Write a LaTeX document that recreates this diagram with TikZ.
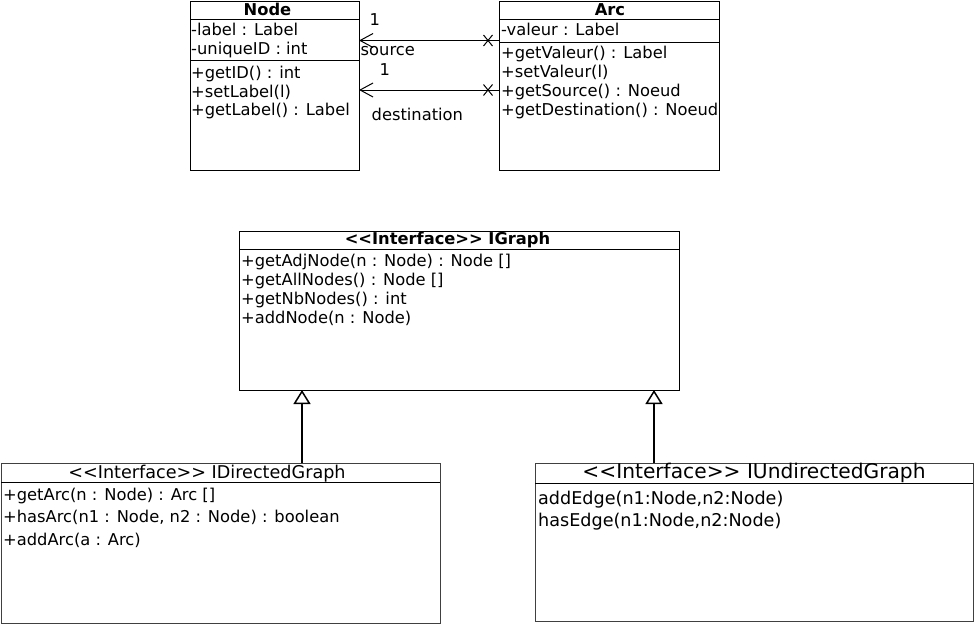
\documentclass[tikz,border=0pt]{standalone}
\usepackage{fontspec}
\setmainfont{DejaVu Sans}
\usetikzlibrary{arrows.meta,calc}
\newcommand\fbase{\fontsize{16.3}{19}\selectfont}
\newcommand\fmid{\fontsize{17.6}{20}\selectfont}
\newcommand\fbig{\fontsize{20.2}{23}\selectfont}
\newcommand\stereo{{<}{<}Interface{>}{>}}
\tikzset{
  box/.style={draw=black, line width=1pt, inner sep=0pt, outer sep=0pt, anchor=north west},
  lbox/.style={draw=black!75, line width=1pt, inner sep=0pt, outer sep=0pt, anchor=north west},
  sep/.style={draw=black, line width=1pt},
  ln/.style={anchor=base west, inner sep=0pt, font=\fbase},
  ttl/.style={anchor=base, inner sep=0pt, font=\fbase\bfseries},
  lbl/.style={anchor=base west, inner sep=0pt, font=\fbase},
  assoc/.style={line width=1pt, -{Straight Barb[length=13pt,width=14pt,line width=1pt]}},
  gen/.style={line width=2pt, -{Triangle[open,length=14pt,width=17pt,line width=1.5pt]}},
  crossmark/.style={line width=1pt}
}
\begin{document}
\begin{tikzpicture}[x=1pt,y=-1pt]
\useasboundingbox (0,0) rectangle (975,624);
\fill[white] (0,0) rectangle (975,624);

% ---------- Node ----------
\node[box, minimum width=169pt, minimum height=169pt] (node) at (190,1) {};
\draw[sep] (190,19) -- (359,19);
\draw[sep] (190,60) -- (359,60);
\node[ttl] (nodet) at (267.5,15) {Node};
\node[ln] (n1) at (191,35) {-label : Label};
\node[ln] (n2) at (191,54) {-uniqueID : int};
\node[ln] (n3) at (191,78) {+getID() : int};
\node[ln] (n4) at (191,97) {+setLabel(l)};
\node[ln] (n5) at (191,115) {+getLabel() : Label};

% ---------- Arc ----------
\node[box, minimum width=220pt, minimum height=169pt] (arc) at (499,1) {};
\draw[sep] (499,19) -- (719,19);
\draw[sep] (499,42) -- (719,42);
\node[ttl] (arct) at (610,15) {Arc};
\node[ln] (a1) at (501,35) {-valeur : Label};
\node[ln] (a2) at (501,58) {+getValeur() : Label};
\node[ln] (a3) at (501,77) {+setValeur(l)};
\node[ln] (a4) at (501,96) {+getSource() : Noeud};
\node[ln] (a5) at (501,115) {+getDestination() : Noeud};

% ---------- associations ----------
\coordinate (s1) at ($(arc.north west)+(0,39.5)$);
\coordinate (s2) at ($(node.north east)+(0,39.5)$);
\coordinate (d1) at ($(arc.north west)+(0,89)$);
\coordinate (d2) at ($(node.north east)+(0,89)$);
\draw[assoc] (s1) -- (s2);
\draw[assoc] (d1) -- (d2);
\draw[crossmark] ($(s1)+(-15.5,-5.5)$) -- ($(s1)+(-6.5,5.5)$);
\draw[crossmark] ($(s1)+(-15.5,5.5)$) -- ($(s1)+(-6.5,-5.5)$);
\draw[crossmark] ($(d1)+(-15.5,-5.5)$) -- ($(d1)+(-6.5,5.5)$);
\draw[crossmark] ($(d1)+(-15.5,5.5)$) -- ($(d1)+(-6.5,-5.5)$);
\node[lbl] (m1) at (369.5,25) {1};
\node[lbl] (srcl) at (360.5,55) {source};
\node[lbl] (m2) at (379.5,75) {1};
\node[lbl] (dstl) at (371.5,120) {destination};

% ---------- IGraph ----------
\node[box, minimum width=440pt, minimum height=159pt] (igraph) at (239,231) {};
\draw[sep] (239,249) -- (679,249);
\node[ttl] (igt) at (447.5,244) {\stereo{} IGraph};
\node[ln] (g1) at (241,266) {+getAdjNode(n : Node) : Node []};
\node[ln] (g2) at (241,285) {+getAllNodes() : Node []};
\node[ln] (g3) at (241,304) {+getNbNodes() : int};
\node[ln] (g4) at (241,323) {+addNode(n : Node)};

% ---------- IDirectedGraph ----------
\node[lbox, minimum width=439pt, minimum height=160pt] (dir) at (1,463) {};
\draw[sep] (1,482) -- (440,482);
\node[anchor=base, inner sep=0pt, font=\fmid] (dirt) at (207,478) {\stereo{} IDirectedGraph};
\node[ln] (d1t) at (3,500) {+getArc(n : Node) : Arc []};
\node[ln] (d2t) at (3,522.5) {+hasArc(n1 : Node, n2 : Node) : boolean};
\node[ln] (d3t) at (3,545) {+addArc(a : Arc)};

% ---------- IUndirectedGraph ----------
\node[lbox, minimum width=438pt, minimum height=158pt] (und) at (535,463) {};
\draw[sep] (535,483) -- (973,483);
\node[anchor=base, inner sep=0pt, font=\fbig] (undt) at (754,478) {\stereo{} IUndirectedGraph};
\node[anchor=base west, inner sep=0pt, font=\fmid] (u1) at (538,504) {addEdge(n1:Node,n2:Node)};
\node[anchor=base west, inner sep=0pt, font=\fmid] (u2) at (538,526) {hasEdge(n1:Node,n2:Node)};

% ---------- generalizations ----------
\draw[gen] ($(dir.north west)+(301,0)$) -- ($(igraph.south west)+(63,0)$);
\draw[gen] ($(und.north west)+(119,0)$) -- ($(igraph.south west)+(415,0)$);
\end{tikzpicture}
\end{document}
